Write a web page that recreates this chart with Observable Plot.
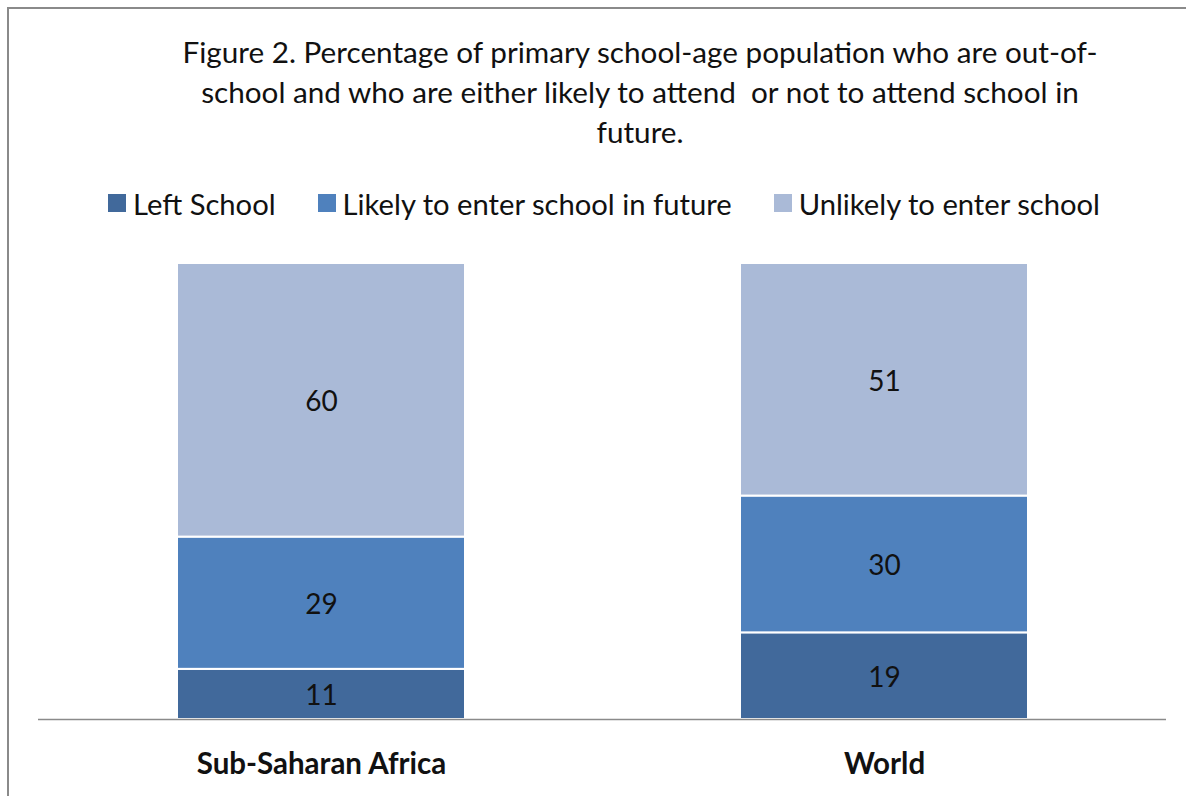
<!DOCTYPE html>
<html>
<head>
<meta charset="utf-8">
<script src="https://cdn.jsdelivr.net/npm/d3@7"></script>
<script src="https://cdn.jsdelivr.net/npm/@observablehq/plot@0.6"></script>
<style>
  html, body { margin: 0; padding: 0; background: #fff; }
  body { width: 1186px; height: 796px; position: relative; overflow: hidden; font-family: Lato, "Open Sans", sans-serif; }
  #frame { position: absolute; left: 7px; top: 7px; width: 1186px; height: 900px; border-left: 2px solid #8a8a8a; border-top: 2px solid #8a8a8a; }
  #title { position: absolute; left: 100px; width: 1080px; top: 32px; text-align: center; font-size: 29.7px; line-height: 40px; color: #111; }
  #legend { position: absolute; left: 108px; top: 187px; height: 32px; display: flex; align-items: center; font-size: 29.2px; color: #111; white-space: nowrap; }
  .item { display: flex; align-items: center; margin-right: 42px; }
  .sw { width: 18px; height: 18px; margin-right: 7px; }
  #chart { position: absolute; left: 0; top: 240px; }
</style>
</head>
<body>
<div id="frame"></div>
<div id="title">Figure 2. Percentage of primary school-age population who are out-of-<br>school and who are either likely to attend&nbsp; or not to attend school in<br>future.</div>
<div id="legend"></div>
<div id="chart"></div>
<script>
const regions = ["Sub-Saharan Africa", "World"];
const categories = ["Left School", "Likely to enter school in future", "Unlikely to enter school"];
const leftSchool = [11, 19];
const likelyFuture = [29, 30];
const unlikely = [60, 51];
const colors = ["#41699b", "#4f81bd", "#aabad7"];

const series = [leftSchool, likelyFuture, unlikely];
const data = [];
regions.forEach((r, i) => {
  categories.forEach((c, j) => {
    data.push({region: r, category: c, value: series[j][i]});
  });
});

// legend
const legend = document.getElementById("legend");
categories.forEach((c, j) => {
  const it = document.createElement("div");
  it.className = "item";
  const sw = document.createElement("div");
  sw.className = "sw";
  sw.style.background = colors[j];
  const t = document.createElement("span");
  t.textContent = c;
  it.appendChild(sw); it.appendChild(t);
  legend.appendChild(it);
});

const chart = Plot.plot({
  width: 1186,
  height: 556,
  marginLeft: 38,
  marginRight: 20,
  marginTop: 23,
  marginBottom: 77,
  style: {fontFamily: "Lato, 'Open Sans', sans-serif", background: "transparent"},
  x: {domain: regions, paddingInner: 0.489, paddingOuter: 0.245, label: null},
  y: {domain: [0, 100], axis: null},
  color: {domain: categories, range: colors},
  marks: [
    Plot.barY(data, Plot.stackY({x: "region", y: "value", z: "category", fill: "category", order: categories, stroke: "white", strokeWidth: 2})),
    Plot.text(data, Plot.stackY({x: "region", y: "value", z: "category", text: d => String(d.value), order: categories, fill: "#111", fontSize: 28, dy: 2})),
    Plot.ruleY([0], {stroke: "#8a8a8a", strokeWidth: 1.5}),
    Plot.axisX({tickSize: 0, tickPadding: 34, fontSize: 29.5, fontWeight: "bold", fill: "#111", label: null})
  ]
});
document.getElementById("chart").appendChild(chart);
</script>
</body>
</html>
